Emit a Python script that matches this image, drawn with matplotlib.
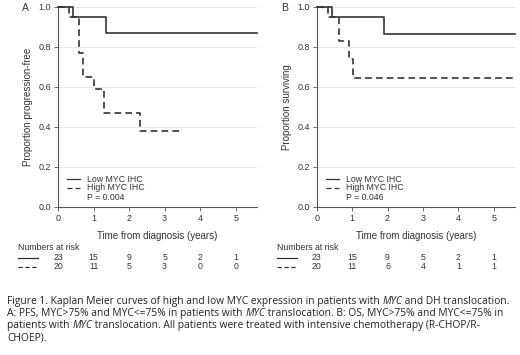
import matplotlib
matplotlib.use("Agg")
import matplotlib.pyplot as plt
from matplotlib.lines import Line2D

W, H = 520, 355
FONT = "Liberation Sans"
TXT = "#333333"
LINE = "#333333"

# ---- data ----
years_ticks = [0, 1, 2, 3, 4, 5]
y_ticks = [0.0, 0.2, 0.4, 0.6, 0.8, 1.0]

# Panel A (PFS)
a_low_t = [0, 0.42, 1.35, 5.6]
a_low_s = [1.0, 0.95, 0.87, 0.87]
a_high_t = [0, 0.31, 0.59, 0.70, 1.0, 1.30, 2.32, 3.43]
a_high_s = [1.0, 0.95, 0.77, 0.65, 0.59, 0.47, 0.38, 0.38]
a_risk_low = [23, 15, 9, 5, 2, 1]
a_risk_high = [20, 11, 5, 3, 0, 0]
a_p = "P = 0.004"
a_ylabel = "Proportion progression-free"

# Panel B (OS)
b_low_t = [0, 0.42, 1.90, 5.6]
b_low_s = [1.0, 0.95, 0.866, 0.866]
b_high_t = [0, 0.33, 0.64, 0.92, 1.03, 5.6]
b_high_s = [1.0, 0.95, 0.83, 0.74, 0.643, 0.643]
b_risk_low = [23, 15, 9, 5, 2, 1]
b_risk_high = [20, 11, 6, 4, 1, 1]
b_p = "P = 0.046"
b_ylabel = "Proportion surviving"

legend_labels = ["Low MYC IHC", "High MYC IHC"]
xlabel = "Time from diagnosis (years)"

caption_lines = [
    [("Figure 1. Kaplan Meier curves of high and low MYC expression in patients with ", False), ("MYC", True), (" and DH translocation.", False)],
    [("A: PFS, MYC>75% and MYC<=75% in patients with ", False), ("MYC", True), (" translocation. B: OS, MYC>75% and MYC<=75% in", False)],
    [("patients with ", False), ("MYC", True), (" translocation. All patients were treated with intensive chemotherapy (R-CHOP/R-", False)],
    [("CHOEP).", False)],
]

fig = plt.figure(figsize=(W / 100, H / 100), dpi=100)
fig.patch.set_facecolor("white")


def fx(x):
    return x / W


def fy(y):
    return 1 - y / H


def panel(left_px, right_px, letter, low_t, low_s, high_t, high_s, risk_low, risk_high, ptxt, ylabel):
    top_px, bot_px = 7, 207
    ax = fig.add_axes([fx(left_px), fy(bot_px), (right_px - left_px) / W, (bot_px - top_px) / H])
    ax.set_xlim(0, 5.6)
    ax.set_ylim(0, 1.0)
    for y in y_ticks[1:]:
        ax.axhline(y, color="#e3e3e3", lw=0.6, zorder=0)
    ax.step(low_t, low_s, where="post", color=LINE, lw=1.2, clip_on=False, zorder=3)
    ax.step(high_t, high_s, where="post", color=LINE, lw=1.2, ls=(0, (4, 2.5)), clip_on=False, zorder=3)
    for s in ["top", "right"]:
        ax.spines[s].set_visible(False)
    for s in ["left", "bottom"]:
        ax.spines[s].set_color("#555555")
        ax.spines[s].set_linewidth(0.8)
    ax.set_xticks(years_ticks)
    ax.set_yticks(y_ticks)
    ax.set_yticklabels([f"{v:.1f}" for v in y_ticks])
    ax.tick_params(axis="both", direction="out", length=3, width=0.6, color="#555555",
                   labelsize=6.5, labelcolor=TXT, pad=2)
    for lab in ax.get_xticklabels() + ax.get_yticklabels():
        lab.set_fontfamily(FONT)
    ax.set_ylabel(ylabel, fontsize=7, family=FONT, color=TXT, labelpad=4)
    ax.set_xlabel(xlabel, fontsize=7, family=FONT, color=TXT, labelpad=6)
    ax.patch.set_alpha(0)

    # panel letter
    fig.text(fx(left_px - 36), fy(8), letter, fontsize=7.5, family=FONT, color=TXT, va="center", ha="left")

    # legend inside
    lx0, lx1, tx = left_px + 9, left_px + 22, left_px + 29
    for i, (lab, ls) in enumerate(zip(legend_labels, ["-", (0, (4, 2.5))])):
        yy = 179 + 9 * i
        fig.add_artist(Line2D([fx(lx0), fx(lx1)], [fy(yy), fy(yy)], color=LINE, lw=0.9, ls=ls))
        fig.text(fx(tx), fy(yy), lab, fontsize=6.3, family=FONT, color=TXT, va="center", ha="left")
    fig.text(fx(tx), fy(197), ptxt, fontsize=6.3, family=FONT, color=TXT, va="center", ha="left")

    # numbers at risk
    fig.text(fx(left_px - 40), fy(247.5), "Numbers at risk", fontsize=6.3, family=FONT, color=TXT,
             va="center", ha="left")
    for j, (vals, ls) in enumerate(zip([risk_low, risk_high], ["-", (0, (3.5, 2))])):
        yy = 257.5 + 9 * j
        fig.add_artist(Line2D([fx(left_px - 40), fx(left_px - 20)], [fy(yy), fy(yy)], color=LINE, lw=0.9, ls=ls))
        for t, v in zip(years_ticks, vals):
            xd = ax.transData.transform((t, 0))[0]
            fig.text(xd / fig.dpi / fig.get_figwidth(), fy(yy), str(v), fontsize=6.3, family=FONT,
                     color=TXT, va="center", ha="center")
    return ax


panel(58, 257, "A", a_low_t, a_low_s, a_high_t, a_high_s, a_risk_low, a_risk_high, a_p, a_ylabel)
panel(316.7, 515, "B", b_low_t, b_low_s, b_high_t, b_high_s, b_risk_low, b_risk_high, b_p, b_ylabel)

# caption with mixed italic runs
fig.canvas.draw()
renderer = fig.canvas.get_renderer()
CAP_FONT = "Open Sans"
cap_size = 7.4
for i, runs in enumerate(caption_lines):
    x = 7.0
    yy = 301.5 + 12.2 * i
    for txt, it in runs:
        t = fig.text(fx(x), fy(yy), txt, fontsize=cap_size, family=CAP_FONT,
                     style="italic" if it else "normal", color="#222222", va="center", ha="left")
        bb = t.get_window_extent(renderer=renderer)
        x += bb.width

fig.savefig("out.png", dpi=100, facecolor="white")
